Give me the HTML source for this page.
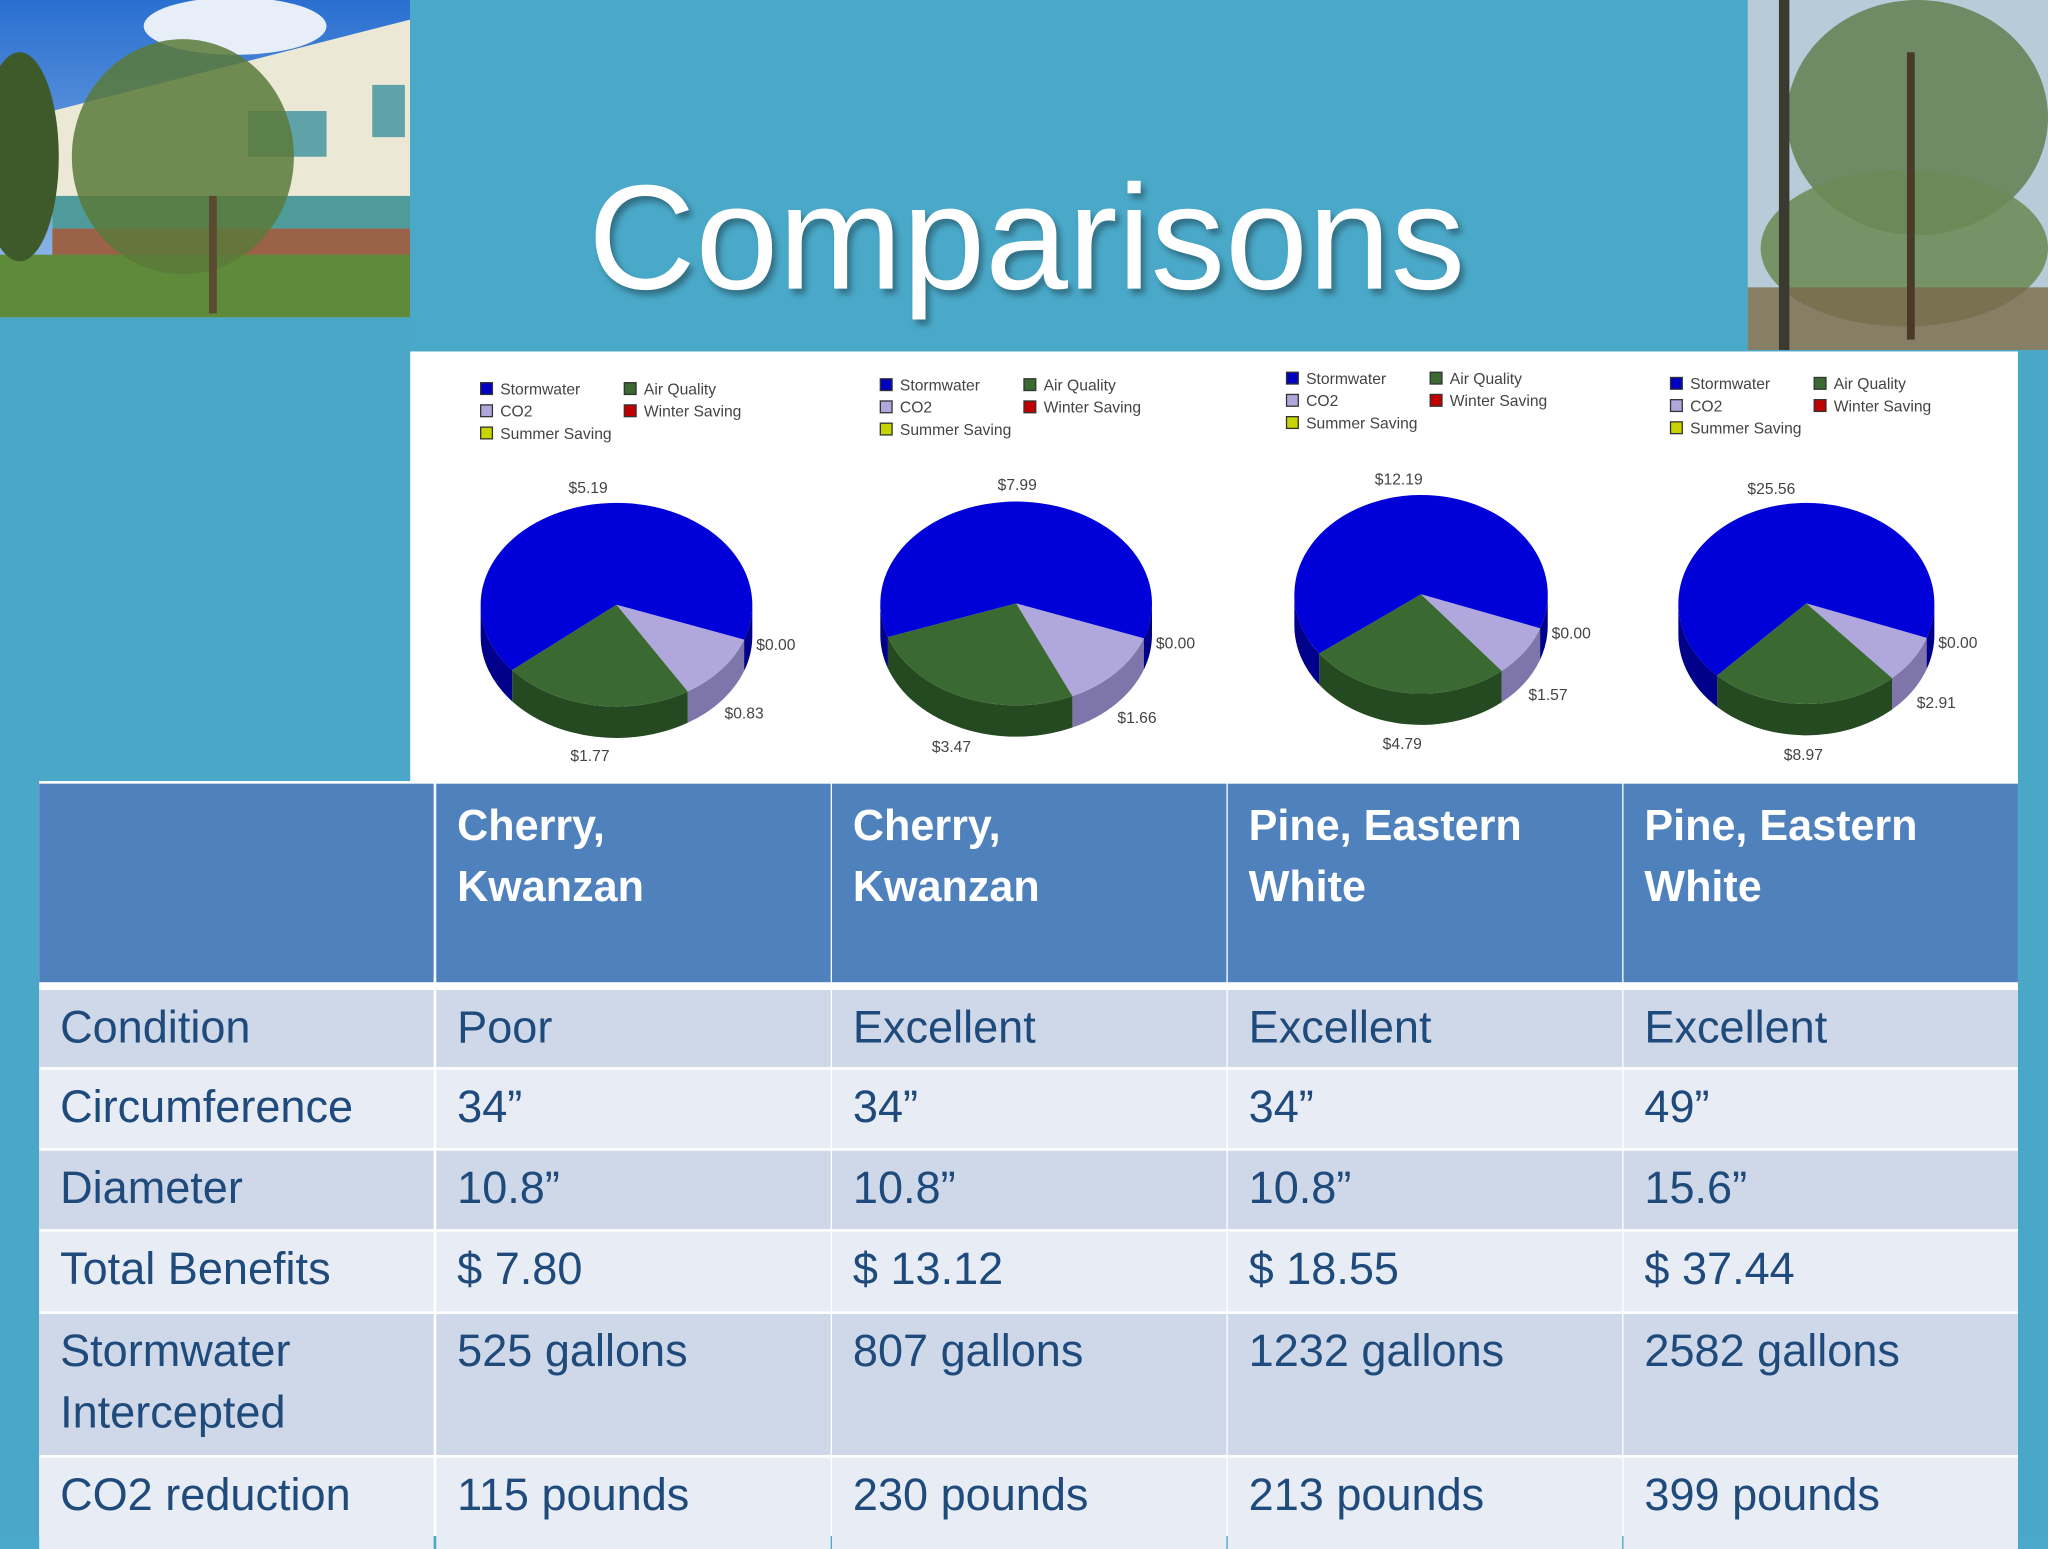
<!DOCTYPE html>
<html><head><meta charset="utf-8">
<style>
html,body{margin:0;padding:0;}
body{width:2048px;height:1536px;overflow:hidden;background:#4aa8c8;font-family:"Liberation Sans",sans-serif;}
#stage{position:absolute;left:0;top:0;width:1568px;height:1176px;transform:scale(1.30612);transform-origin:0 0;background:#4aa7c7;}
.abs{position:absolute;}
.cell{position:absolute;box-sizing:border-box;padding:0 16px;font-size:34.5px;color:#1f4a7c;line-height:47px;white-space:nowrap;}
.hd{background:#4f81bd;color:#fff;font-weight:bold;font-size:33px;line-height:47px;padding-top:8px;}
.dk{background:#cfd8e8;}
.lt{background:#e8ecf4;}
</style></head><body>
<div id="stage">
  <svg class="abs" style="left:0;top:0" width="314" height="243">
    <defs><linearGradient id="sky" x1="0" y1="0" x2="0" y2="1"><stop offset="0" stop-color="#2a6fd0"/><stop offset="1" stop-color="#9fc3ea"/></linearGradient></defs>
    <rect width="314" height="243" fill="url(#sky)"/>
    <ellipse cx="180" cy="20" rx="70" ry="22" fill="#e8eef8"/>
    <polygon points="40,85 314,15 314,200 40,200" fill="#ece8d6"/>
    <rect x="40" y="150" width="274" height="25" fill="#4f9a9a"/>
    <rect x="190" y="85" width="60" height="35" fill="#5fa3a8"/>
    <rect x="285" y="65" width="25" height="40" fill="#5fa3a8"/>
    <rect x="40" y="175" width="274" height="30" fill="#9a6248"/>
    <rect x="0" y="195" width="314" height="48" fill="#5f8a3a"/>
    <ellipse cx="140" cy="120" rx="85" ry="90" fill="#5a7a3a" opacity="0.85"/>
    <ellipse cx="15" cy="120" rx="30" ry="80" fill="#3f5a2a"/>
    <rect x="160" y="150" width="6" height="90" fill="#5a4a30"/>
  </svg>
  <svg class="abs" style="left:1338px;top:0" width="230" height="268">
    <rect width="230" height="268" fill="#b8cbd8"/>
    <ellipse cx="130" cy="90" rx="100" ry="90" fill="#5b7a4a" opacity="0.8"/>
    <ellipse cx="120" cy="190" rx="110" ry="60" fill="#6a8a55" opacity="0.85"/>
    <rect x="0" y="220" width="230" height="48" fill="#7a6a4a" opacity="0.8"/>
    <rect x="24" y="0" width="8" height="268" fill="#3a3a30"/>
    <rect x="122" y="40" width="6" height="220" fill="#4a3a28"/>
  </svg>
  <div class="abs" style="left:314px;top:0;width:1024px;height:268px;background:#4aa9c9"></div>
  <div class="abs" style="left:314px;top:118px;width:944px;text-align:center;font-size:114px;color:#fff;text-shadow:3px 4px 5px rgba(0,0,0,0.35);line-height:130px;">Comparisons</div>

  <svg id="pies" class="abs" style="left:314px;top:269px" width="1231" height="329">
    <rect width="1231" height="329" fill="#ffffff"/>
  </svg>

  <div class="abs" style="left:30px;top:598px;width:1515px;height:578px;background:#ffffff"></div>
  <div id="tbl">
    <div class="cell hd" style="left:30px;top:600px;width:302px;height:152px"></div>
    <div class="cell hd" style="left:334px;top:600px;width:302px;height:152px">Cherry,<br>Kwanzan</div>
    <div class="cell hd" style="left:637px;top:600px;width:302px;height:152px">Cherry,<br>Kwanzan</div>
    <div class="cell hd" style="left:940px;top:600px;width:302px;height:152px">Pine, Eastern<br>White</div>
    <div class="cell hd" style="left:1243px;top:600px;width:302px;height:152px">Pine, Eastern<br>White</div>
  </div>
</div>
<script>
const rows=[
 ["Condition","Poor","Excellent","Excellent","Excellent"],
 ["Circumference","34”","34”","34”","49”"],
 ["Diameter","10.8”","10.8”","10.8”","15.6”"],
 ["Total Benefits","$ 7.80","$ 13.12","$ 18.55","$ 37.44"],
 ["Stormwater<br>Intercepted","525 gallons","807 gallons","1232 gallons","2582 gallons"],
 ["CO2 reduction","115 pounds","230 pounds","213 pounds","399 pounds"]];
const rowTops=[758,819,881,943,1006,1116];
const rowH=[59,60,60,61,108,70];
const colL=[30,334,637,940,1243];
const tbl=document.getElementById('tbl');
rows.forEach((r,i)=>{r.forEach((t,j)=>{
  const d=document.createElement('div');
  d.className='cell '+(i%2==0?'dk':'lt');
  d.style.cssText=`left:${colL[j]}px;top:${rowTops[i]}px;width:302px;height:${rowH[i]}px;padding-top:6px;`;
  d.innerHTML=t;
  
  
  tbl.appendChild(d);
});});

const seriesNames=["Stormwater","Air Quality","CO2","Winter Saving","Summer Saving"];
const stormwater=[5.19,7.99,12.19,25.56];
const airQuality=[1.77,3.47,4.79,8.97];
const co2=[0.83,1.66,1.57,2.91];
const winter=[0,0,0,0];
const summer=[0,0,0,0];
const ns='http://www.w3.org/2000/svg';
const svg=document.getElementById('pies');
function el(tag,attrs,parent){const e=document.createElementNS(ns,tag);for(const k in attrs)e.setAttribute(k,attrs[k]);(parent||svg).appendChild(e);return e;}
const geo=[{cx:158,cy:194,rx:104,ry:78,lx:54,ly:24},{cx:464,cy:193,rx:104,ry:78,lx:360,ly:21},{cx:774,cy:186,rx:97,ry:76,lx:671,ly:16},{cx:1069,cy:193,rx:98,ry:77,lx:965,ly:20}];
const cols={st:["#0000d8","#00008a"],aq:["#3a6a32","#254a22"],co:["#b0a8dc","#7e76aa"],wi:["#c00000","#800000"],su:["#c8d400","#8a9400"]};
const depth=24;
geo.forEach((g,i)=>{
  const grp=el('g',{});
  
  
  const leg=[["Stormwater","#0000c0",0,0],["Air Quality","#3a6a32",110,0],["CO2","#b0a8dc",0,17],["Winter Saving","#c00000",110,17],["Summer Saving","#c8d400",0,34]];
  leg.forEach(l=>{
    const s=el('rect',{x:g.lx+l[2],y:g.ly+l[3],width:9,height:9,fill:l[1],stroke:'#333','stroke-width':1},grp);
    
    
    const t=el('text',{x:g.lx+l[2]+15,y:g.ly+l[3]+9,'font-size':12,fill:'#444','font-family':'Liberation Sans'},grp);
    t.textContent=l[0];
    
    
  });
  const vals=[["wi",winter[i]],["su",summer[i]],["co",co2[i]],["aq",airQuality[i]],["st",stormwater[i]]];
  const tot=vals.reduce((a,v)=>a+v[1],0);
  let a=20*Math.PI/180;
  const P=(ang,dy)=>[(g.cx+g.rx*Math.cos(ang)).toFixed(2),(g.cy+g.ry*Math.sin(ang)+(dy||0)).toFixed(2)];
  const slices=vals.map(v=>{const s=a;a+=v[1]/tot*2*Math.PI;return {k:v[0],v:v[1],s:s,e:a};});
  slices.forEach(sl=>{
    if(sl.v<=0)return;
    [0,2*Math.PI].forEach(off=>{
      const s=Math.max(sl.s,off),e=Math.min(sl.e,off+Math.PI);
      if(e<=s)return;
      const p1=P(s),p2=P(e),p3=P(e,depth),p4=P(s,depth);
      const d=`M${p1} A${g.rx} ${g.ry} 0 0 1 ${p2} L${p3} A${g.rx} ${g.ry} 0 0 0 ${p4} Z`;
      const pth=el('path',{d:d,fill:cols[sl.k][1]},grp);
      
      
    });
  });
  slices.forEach(sl=>{
    if(sl.v<=0)return;
    const p1=P(sl.s),p2=P(sl.e);
    const large=(sl.e-sl.s)>Math.PI?1:0;
    const pth=el('path',{d:`M${g.cx} ${g.cy} L${p1} A${g.rx} ${g.ry} 0 ${large} 1 ${p2} Z`,fill:cols[sl.k][0]},grp);
    
    
  });
  slices.forEach(sl=>{
    if(sl.k=="su")return;
    const m=(sl.s+sl.e)/2;
    const sn=Math.sin(m);
    let x=g.cx+(g.rx+22)*Math.cos(m);
    let y=g.cy+(g.ry+14)*sn+(sn>0?depth:0)+5;
    if(sl.k=="wi"){x=g.cx+g.rx+18;y=g.cy+g.ry*Math.sin(sl.s)+8;}
    const t=el('text',{x:x.toFixed(1),y:y.toFixed(1),'font-size':12,fill:'#444','text-anchor':'middle','font-family':'Liberation Sans'},grp);
    t.textContent='$'+sl.v.toFixed(2);
    
    
  });
});
</script>
</body></html>
